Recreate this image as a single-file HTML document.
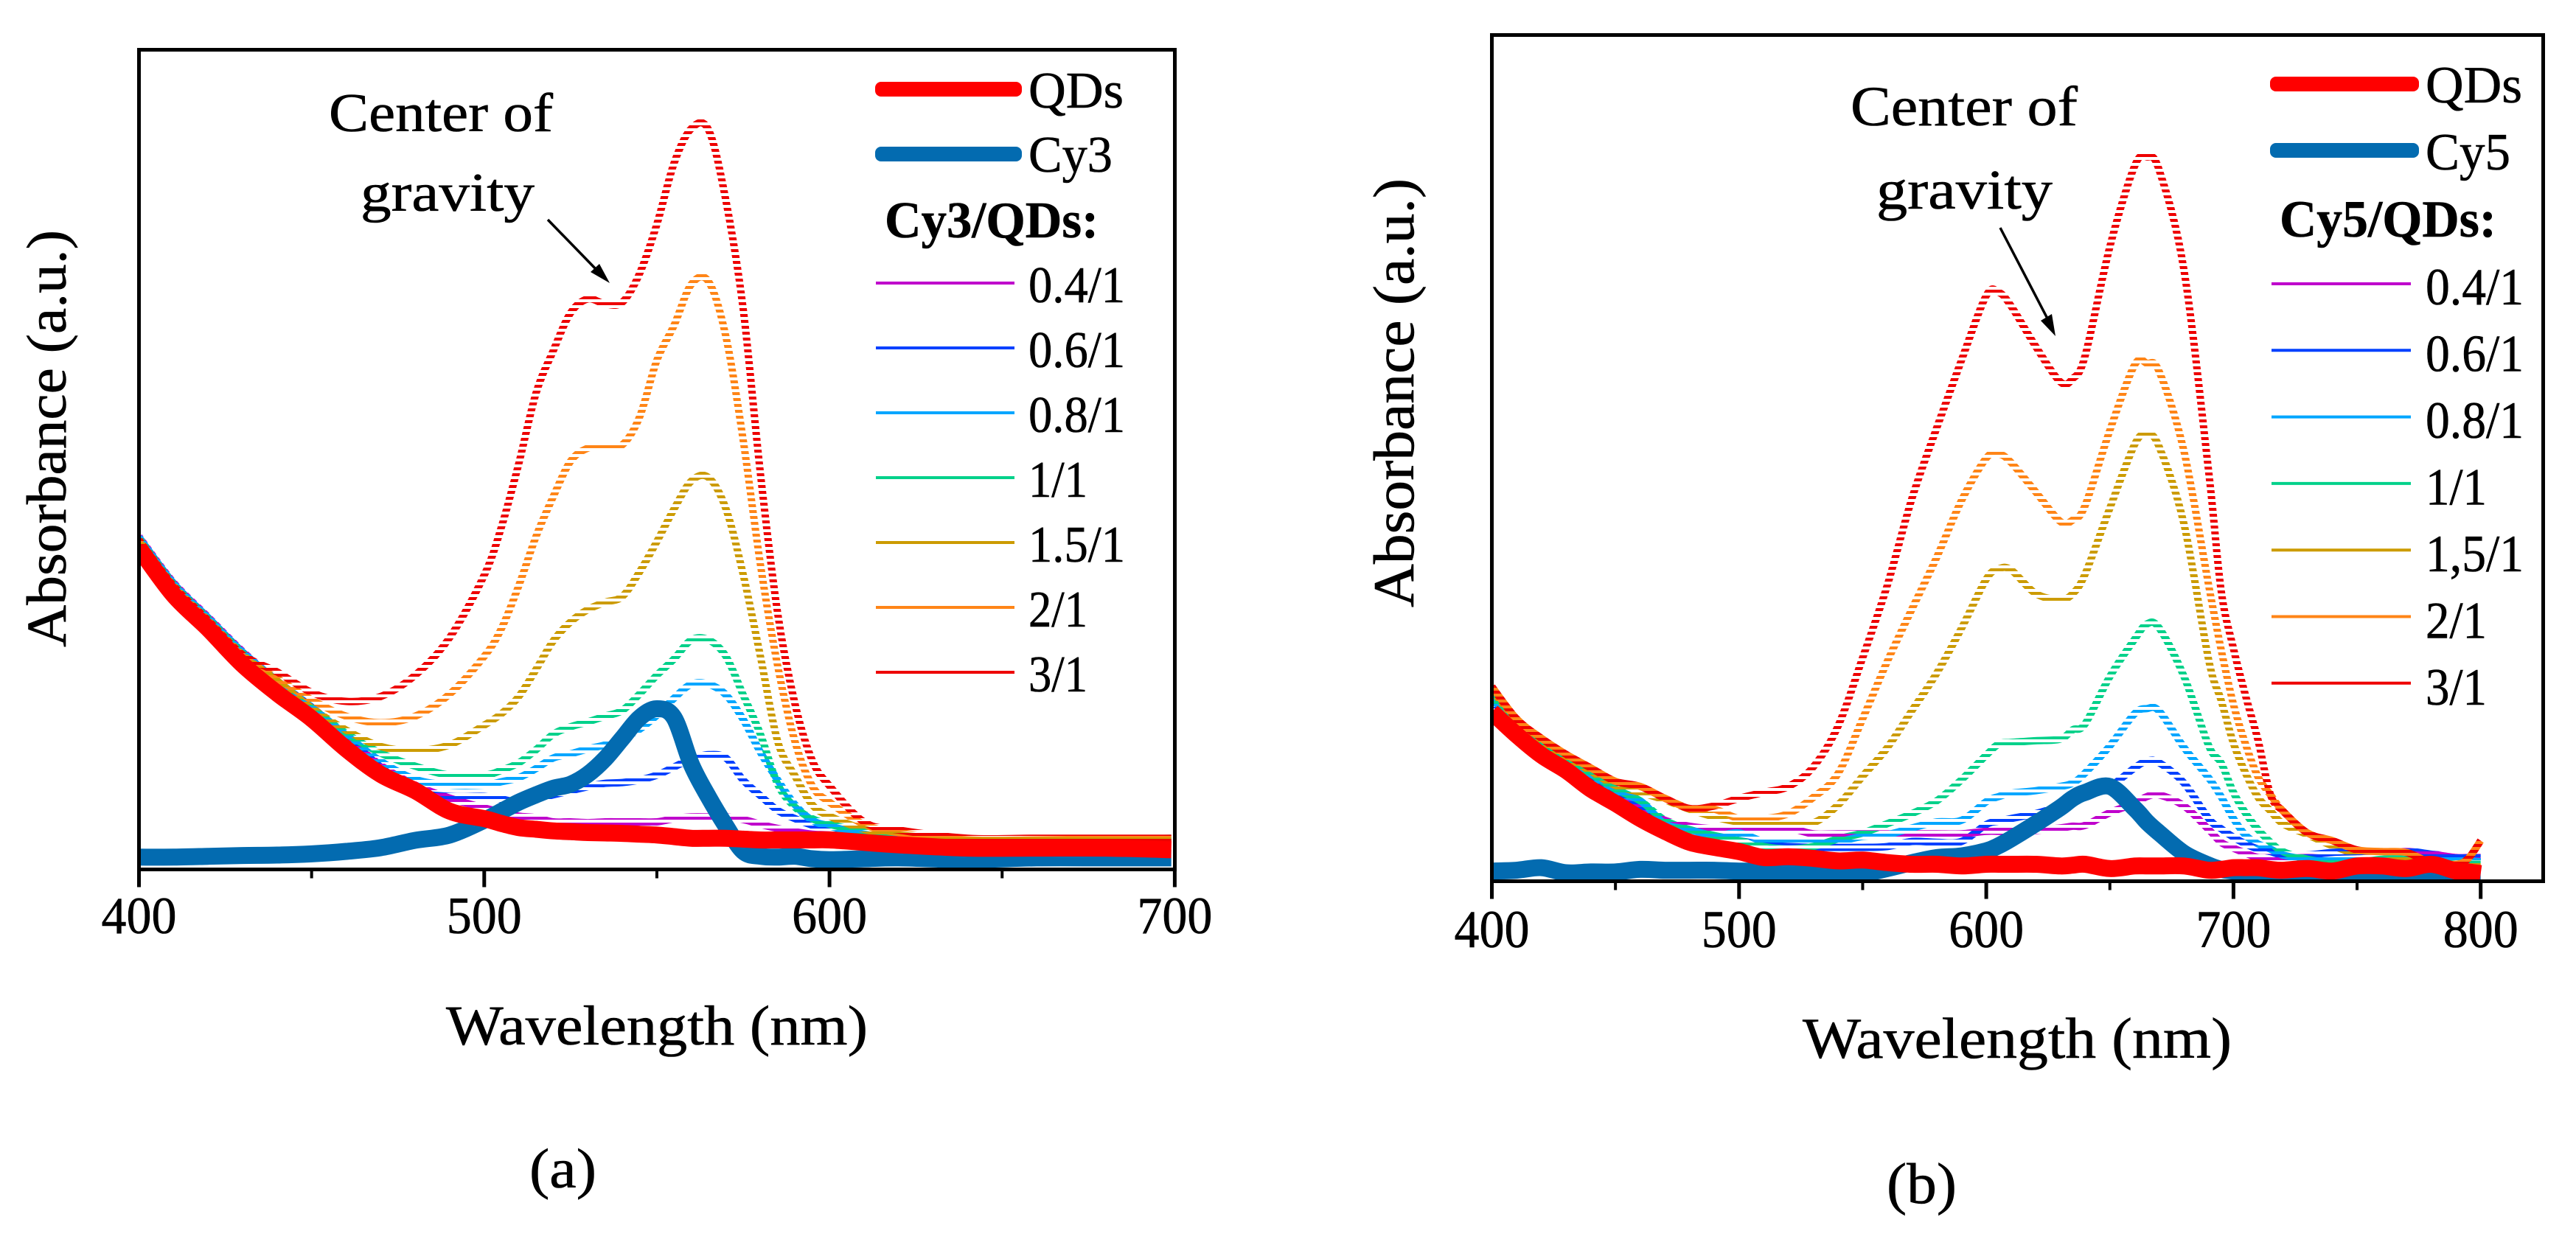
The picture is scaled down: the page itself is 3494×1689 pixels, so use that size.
<!DOCTYPE html>
<html lang="en">
<head>
<meta charset="utf-8">
<title>Absorbance spectra of QDs with Cy3 and Cy5</title>
<style>
html,body{margin:0;padding:0;background:#fff;}
svg{display:block;}
text{font-family:"Liberation Serif",serif;fill:#000;stroke:#000;stroke-width:.6px;}
</style>
</head>
<body>
<svg id="figure" xmlns="http://www.w3.org/2000/svg" width="3494" height="1689" viewBox="0 0 3494 1689">
  <rect width="3494" height="1689" fill="#fff"/>
  <defs id="defs"></defs>
  <g id="panel-a"></g>
  <g id="panel-b"></g>

  <text transform="translate(89,878) rotate(-90)" font-size="76" textLength="566" lengthAdjust="spacingAndGlyphs">Absorbance (a.u.)</text>
  <text x="605" y="1417" font-size="76" textLength="572" lengthAdjust="spacingAndGlyphs">Wavelength (nm)</text>
  <text x="446" y="178" font-size="74" textLength="304" lengthAdjust="spacingAndGlyphs">Center of</text>
  <text x="489" y="286" font-size="74" textLength="236" lengthAdjust="spacingAndGlyphs">gravity</text>
  <line x1="743" y1="298" x2="812" y2="369" stroke="#000" stroke-width="3.5"/>
  <polygon points="827,384 801,369 813,358" fill="#000"/>
  <text x="718" y="1611" font-size="76" textLength="91" lengthAdjust="spacingAndGlyphs">(a)</text>

  <text transform="translate(1917,824) rotate(-90)" font-size="78" textLength="582" lengthAdjust="spacingAndGlyphs">Absorbance (a.u.)</text>
  <text x="2445" y="1435" font-size="78" textLength="582" lengthAdjust="spacingAndGlyphs">Wavelength (nm)</text>
  <text x="2510" y="170" font-size="76" textLength="308" lengthAdjust="spacingAndGlyphs">Center of</text>
  <text x="2545" y="283" font-size="76" textLength="239" lengthAdjust="spacingAndGlyphs">gravity</text>
  <line x1="2713" y1="309" x2="2777" y2="432" stroke="#000" stroke-width="3.5"/>
  <polygon points="2788,456 2768,435 2783,426" fill="#000"/>
  <text x="2559" y="1632" font-size="78" textLength="95" lengthAdjust="spacingAndGlyphs">(b)</text>
</svg>

<script>
/* ---------- Panel (a) data: wavelength (nm) and absorbance (a.u., 0-100 axis) ---------- */
const wavelengthsA = [400,410,420,430,440,450,460,470,480,490,500,505,510,515,520,525,530,535,540,545,550,555,560,565,570,575,580,585,590,595,600,610,620,640,660,680,699];
const ratio04A = [40.6,35,30.8,26.6,23,19.8,16.2,12.7,10.3,8.7,7.5,7.0,6.5,6.3,5.8,5.8,5.7,5.8,5.8,5.8,5.8,6.2,6.4,6.4,6.4,6.1,5.5,5.0,4.6,4.3,4.2,3.9,3.7,3.5,3.5,3.6,3.7];
const ratio06A = [40.5,34.9,30.7,26.5,23,19.8,16.3,12.5,9.6,8.9,8.9,8.6,8.2,8.6,9.1,9.6,10.1,10.5,10.6,10.9,11.5,12.5,13.5,14.0,13.6,10.9,9.0,7.2,6.2,5.4,4.8,4.2,3.8,3.4,3.4,3.5,3.7];
const ratio08A = [40.5,34.9,30.7,26.5,23,19.8,16.4,13.2,11.0,10.3,10.3,10.7,11.2,12.3,13.6,14.1,14.7,15.2,16.0,17.1,18.8,20.9,22.6,22.6,21.3,18.3,14.3,10.9,7.9,6.0,5.3,4.3,3.8,3.4,3.4,3.5,3.7];
const ratio10A = [40.4,34.8,30.6,26.4,22.9,19.7,16.6,14.2,12.6,11.5,11.5,12.1,13.0,14.6,16.5,17.4,18.0,18.7,19.4,21.4,23.7,25.7,28.0,28.0,26.0,21.3,16.5,10.4,7.6,6.2,5.5,4.6,4.0,3.6,3.5,3.6,3.8];
const ratio15A = [40.2,34.6,30.4,26.2,23.0,19.7,17.0,15.0,14.5,15.2,17.6,19.0,21.1,24.4,27.9,30.2,31.7,32.6,33.3,36.3,40.0,44.0,47.4,47.8,44.0,36.0,26.0,15.6,11.4,7.9,6.5,4.9,4.2,3.6,3.5,3.6,3.7];
const ratio20A = [40.0,34.4,30.2,26.0,23.3,20.7,18.7,17.9,18.7,21.4,26.0,29.4,34.6,40.6,45.5,49.8,51.4,51.6,51.8,55.2,62.1,66.4,71.4,71.7,65.0,52.4,37.2,24.8,15.6,10.2,8.2,5.5,4.5,3.6,3.6,3.7,3.7];
const ratio30A = [40.2,34.6,30.4,26.2,24.1,21.6,20.5,21.1,23.7,28.3,35.9,41.8,49.5,58.1,63.3,67.9,69.6,69.0,69.2,72.7,78.7,86.2,90.4,90.2,81.6,68.4,48.3,31.2,20.2,13.3,10.2,5.8,4.8,3.8,3.8,3.8,3.8];
const qdsA = [39.2,33.5,29.4,25.0,21.5,18.4,14.7,11.6,9.6,7.1,6.2,5.6,5.1,4.9,4.7,4.6,4.5,4.45,4.4,4.3,4.2,4.0,3.8,3.8,3.8,3.7,3.6,3.6,3.6,3.6,3.6,3.3,3.0,2.6,2.6,2.6,2.4];
const cy3A = [1.5,1.5,1.6,1.7,1.75,1.9,2.2,2.65,3.55,4.2,6.0,7.1,8.2,9.1,9.9,10.4,11.6,13.5,16.0,18.5,19.6,18.5,12.8,8.8,5.3,2.2,1.6,1.5,1.6,1.3,1.2,1.3,1.4,1.2,1.4,1.4,1.4];
const ratioLabelsA = ['0.4/1','0.6/1','0.8/1','1/1','1.5/1','2/1','3/1'];
const majorTicksA = [400,500,600,700];
const minorTicksA = [450,550,650];

/* ---------- Panel (b) data ---------- */
const wavelengthsB = [400,410,420,430,440,450,460,470,480,490,500,510,520,530,540,550,560,570,580,590,600,605,610,620,630,635,640,650,660,665,670,680,690,695,700,705,710,715,720,730,740,750,760,770,780,790,795,800];
const ratio04B = [21.8,18.6,16.4,14.2,12.2,10.5,8.8,7.2,6.5,6.2,6.2,6.3,6.3,5.6,5.6,5.6,5.6,5.6,5.6,5.6,5.9,5.9,5.9,6.0,6.3,6.5,6.6,8.1,9.2,10.0,10.2,8.9,6.1,4.6,3.9,3.3,2.8,2.8,2.7,2.8,2.7,2.9,3.2,3.5,3.2,2.8,2.8,2.8];
const ratio06B = [21.4,18.3,16.2,14.0,12.0,10.2,8.8,7.0,6.1,5.3,4.8,4.3,4.1,4.0,4.0,4.0,4.1,4.7,4.6,4.7,6.7,7.1,7.4,8.0,8.9,9.5,10.2,11.2,13.4,14.2,14.0,11.6,7.4,6.2,5.2,4.4,3.8,3.5,3.1,3.1,3.4,3.5,3.6,3.6,3.2,3.0,3.0,3.0];
const ratio08B = [21.6,18.6,16.4,14.2,12.2,10.5,9.5,6.8,6.1,5.4,5.7,4.7,4.7,4.7,4.7,5.3,5.5,6.3,7.0,7.2,9.4,10.0,10.4,10.7,11.2,11.6,12.8,16.0,19.8,20.4,20.1,15.8,12.2,10.0,7.4,5.4,4.4,3.8,3.1,2.6,2.6,2.6,3.0,2.9,2.5,2.4,2.4,2.3];
const ratio10B = [22.0,18.5,16.4,14.4,12.7,10.9,9.5,7.2,6.1,5.4,4.8,4.1,3.8,4.1,5.0,5.7,6.8,8.0,9.5,12.0,14.9,16.2,16.4,16.6,16.8,17.9,18.6,24.2,28.6,30.4,29.9,24.2,16.0,14.0,10.5,8.0,6.1,4.6,3.5,2.6,2.2,2.2,2.6,2.6,2.3,2.0,2.0,2.0];
const ratio15B = [22.6,19.0,16.4,14.7,13.0,11.3,10.5,9.6,8.5,7.6,7.0,6.9,6.9,6.9,9.0,12.4,15.8,20.2,24.6,29.9,35.7,36.9,36.8,34.0,33.3,34.0,36.3,44.1,51.6,52.8,51.3,42.2,26.1,21.4,16.3,12.7,9.9,8.3,6.8,5.5,4.2,3.3,3.3,2.8,2.2,1.8,1.8,1.8];
const ratio20B = [23.0,19.2,16.9,15.0,13.4,11.8,11.2,9.8,8.6,8.5,7.4,7.4,8.0,9.9,12.7,19.2,26.0,32.2,38.3,45.0,50.0,50.5,49.5,46.0,42.5,42.7,44.4,53.3,61.0,61.2,60.2,50.8,34.9,27.4,20.9,16.1,12.3,10.2,8.3,5.7,4.8,3.7,3.5,3.4,2.2,2.0,2.7,4.8];
const ratio30B = [23.0,19.2,16.9,15.0,13.4,11.8,11.2,9.8,8.6,8.9,9.8,10.5,11.2,13.5,18.3,26.4,35.0,45.3,53.6,61.6,69.2,69.6,68.0,63.2,59.0,59.4,62.1,75.0,84.5,85.6,84.0,72.2,48.3,34.4,27.5,21.8,16.6,10.2,8.3,5.7,4.8,3.7,3.5,3.4,2.2,2.0,2.7,4.8];
const qdsB = [20.0,17.3,14.9,13.1,10.9,9.2,7.4,5.9,4.6,4.0,3.5,2.8,2.9,2.7,2.4,2.5,2.2,2.0,2.0,1.8,2.0,2.0,2.0,2.0,1.8,1.9,2.0,1.5,1.8,1.8,1.8,1.8,1.3,1.4,1.6,1.6,1.6,1.4,1.3,1.5,1.2,1.8,1.8,1.5,2.0,1.2,1.1,0.9];
const cy5B = [1.2,1.3,1.6,1.0,1.1,1.1,1.4,1.3,1.3,1.3,1.2,1.2,1.2,1.1,0.8,0.9,1.5,2.2,2.8,3.0,3.6,4.2,5.0,6.8,8.7,9.8,10.5,11.2,8.6,7.0,5.7,3.3,1.9,1.4,1.2,1.0,0.5,0.5,0.4,0.5,0.5,0.4,0.9,0.4,0.3,0.2,0.2,0.2];
const ratioLabelsB = ['0.4/1','0.6/1','0.8/1','1/1','1,5/1','2/1','3/1'];
const majorTicksB = [400,500,600,700,800];
const minorTicksB = [450,550,650,750];

/* ---------- Drawing ---------- */
const SVGNS = 'http://www.w3.org/2000/svg';
const ratioColors = ['#bf00cc','#0040ff','#00a6ff','#00d18a','#cc9b00','#ff8517','#ee0000'];
const QD_COLOR = '#ff0000';
const DYE_COLOR = '#036bb0';
const defs = document.getElementById('defs');

function make(tag, parent, attrs) {
  const el = document.createElementNS(SVGNS, tag);
  for (const k in attrs) el.setAttribute(k, attrs[k]);
  parent.appendChild(el);
  return el;
}

function smoothPath(xs, ys) {
  let d = 'M' + xs[0].toFixed(1) + ' ' + ys[0].toFixed(1);
  for (let i = 0; i < xs.length - 1; i++) {
    const i0 = Math.max(i - 1, 0), i3 = Math.min(i + 2, xs.length - 1);
    const c1x = xs[i] + (xs[i + 1] - xs[i0]) / 6, c1y = ys[i] + (ys[i + 1] - ys[i0]) / 6;
    const c2x = xs[i + 1] - (xs[i3] - xs[i]) / 6, c2y = ys[i + 1] - (ys[i3] - ys[i]) / 6;
    d += 'C' + c1x.toFixed(1) + ' ' + c1y.toFixed(1) + ' ' + c2x.toFixed(1) + ' ' + c2y.toFixed(1) + ' ' + xs[i + 1].toFixed(1) + ' ' + ys[i + 1].toFixed(1);
  }
  return d;
}

function stripePattern(id, color, phase) {
  const p = make('pattern', defs, {id: id, patternUnits: 'userSpaceOnUse', x: 0, y: phase, width: 16, height: 8});
  make('rect', p, {x: 0, y: 0, width: 16, height: 4, fill: color});
}

function drawPanel(cfg) {
  const g = document.getElementById(cfg.id);
  const f = cfg.frame;
  const xScale = nm => f.left + (nm - cfg.xMin) * cfg.pxPerNm;
  const yScale = v => f.bottom - v * (f.bottom - f.top) / 100;

  const clip = make('clipPath', defs, {id: cfg.id + '-clip'});
  make('rect', clip, {x: f.left, y: f.top, width: f.right - f.left, height: f.bottom - f.top - 2.5});

  const plot = make('g', g, {'clip-path': 'url(#' + cfg.id + '-clip)'});
  
  

  const xs = cfg.wavelengths.map(xScale);

  cfg.ratios.forEach(function (values, i) {
    const pid = cfg.id + '-stripe-' + i;
    stripePattern(pid, ratioColors[i], cfg.phases[i]);
    const line = make('path', plot, {d: smoothPath(xs, values.map(yScale)), fill: 'none', stroke: 'url(#' + pid + ')', 'stroke-width': 10});
    
    
  });

  const dye = make('path', plot, {d: smoothPath(xs, cfg.dye.map(yScale)), fill: 'none', stroke: DYE_COLOR, 'stroke-width': 23});
  
  

  const qd = make('path', plot, {d: smoothPath(xs, cfg.qds.map(yScale)), fill: 'none', stroke: QD_COLOR, 'stroke-width': 23});
  
  

  const frame = make('rect', g, {x: f.left, y: f.top, width: f.right - f.left, height: f.bottom - f.top, fill: 'none', stroke: '#000', 'stroke-width': 5});
  
  

  cfg.major.forEach(function (nm) {
    const x = xScale(nm);
    const tick = make('line', g, {x1: x, x2: x, y1: f.bottom, y2: f.bottom + 24, stroke: '#000', 'stroke-width': 5});
    
    
    const label = make('text', g, {x: x, y: cfg.tickBaseline, 'font-size': cfg.tickFont, 'text-anchor': 'middle', textLength: 102, lengthAdjust: 'spacingAndGlyphs'});
    label.textContent = String(nm);
    
    
  });
  cfg.minor.forEach(function (nm) {
    const x = xScale(nm);
    const tick = make('line', g, {x1: x, x2: x, y1: f.bottom, y2: f.bottom + 12, stroke: '#000', 'stroke-width': 4});
    
    
  });

  /* legend */
  const L = cfg.legend;
  const lg = make('g', g, {});
  
  

  const qdSwatch = make('rect', lg, {x: L.thickX1, y: L.qdY - 10, width: L.thickX2 - L.thickX1, height: 20, rx: 8, fill: QD_COLOR});
  
  
  const qdText = make('text', lg, {x: L.textX, y: L.qdBase, 'font-size': cfg.fontSize, textLength: L.qdW, lengthAdjust: 'spacingAndGlyphs'});
  qdText.textContent = 'QDs';
  
  

  const dyeSwatch = make('rect', lg, {x: L.thickX1, y: L.dyeY - 10, width: L.thickX2 - L.thickX1, height: 20, rx: 8, fill: DYE_COLOR});
  
  
  const dyeText = make('text', lg, {x: L.textX, y: L.dyeBase, 'font-size': cfg.fontSize, textLength: L.dyeW, lengthAdjust: 'spacingAndGlyphs'});
  dyeText.textContent = cfg.dyeName;
  
  

  const head = make('text', lg, {x: L.headX, y: L.headBase, 'font-size': cfg.fontSize, 'font-weight': 'bold', textLength: L.headW, lengthAdjust: 'spacingAndGlyphs'});
  head.textContent = cfg.dyeName + '/QDs:';
  
  

  cfg.labels.forEach(function (label, i) {
    const y = L.lineY + i * L.lineStep;
    const swatch = make('line', lg, {x1: L.thinX1, x2: L.thinX2, y1: y, y2: y, stroke: ratioColors[i], 'stroke-width': 4});
    
    
    const short = label.length === 3;
    const t = make('text', lg, {x: L.textX, y: L.ratioBase + i * L.ratioStep, 'font-size': cfg.fontSize, textLength: short ? L.shortW : L.longW, lengthAdjust: 'spacingAndGlyphs'});
    t.textContent = label;
    
    
  });
}

drawPanel({
  id: 'panel-a', xMin: 400, pxPerNm: 4.683, fontSize: 70, tickFont: 71, tickBaseline: 1266,
  frame: {left: 188.5, right: 1593.5, top: 67.5, bottom: 1179.5},
  wavelengths: wavelengthsA,
  ratios: [ratio04A, ratio06A, ratio08A, ratio10A, ratio15A, ratio20A, ratio30A],
  phases: [4, 0, 6, 2, 0, 4, 2],
  qds: qdsA, dye: cy3A, dyeName: 'Cy3', labels: ratioLabelsA,
  major: majorTicksA, minor: minorTicksA,
  legend: {thickX1: 1187, thickX2: 1386, thinX1: 1188, thinX2: 1376, qdY: 121, dyeY: 209, textX: 1395,
    qdBase: 146, qdW: 129, dyeBase: 233, dyeW: 114, headX: 1200, headBase: 322, headW: 290,
    lineY: 384, lineStep: 88, ratioBase: 410, ratioStep: 88, shortW: 80, longW: 131}
});

drawPanel({
  id: 'panel-b', xMin: 400, pxPerNm: 3.353, fontSize: 71, tickFont: 72, tickBaseline: 1285,
  frame: {left: 2023.5, right: 3449.5, top: 47.5, bottom: 1195.5},
  wavelengths: wavelengthsB,
  ratios: [ratio04B, ratio06B, ratio08B, ratio10B, ratio15B, ratio20B, ratio30B],
  phases: [3, 7, 3, 7, 3, 5, 1],
  qds: qdsB, dye: cy5B, dyeName: 'Cy5', labels: ratioLabelsB,
  major: majorTicksB, minor: minorTicksB,
  legend: {thickX1: 3079, thickX2: 3281, thinX1: 3081, thinX2: 3270, qdY: 114, dyeY: 204, textX: 3290,
    qdBase: 139, qdW: 131, dyeBase: 230, dyeW: 115, headX: 3092, headBase: 321, headW: 294,
    lineY: 385, lineStep: 90.3, ratioBase: 413, ratioStep: 90.5, shortW: 83, longW: 133}
});
</script>
</body>
</html>
